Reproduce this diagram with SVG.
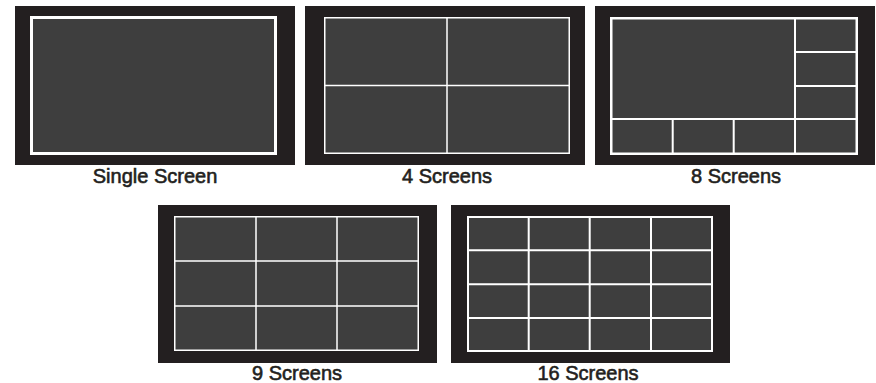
<svg xmlns="http://www.w3.org/2000/svg" width="876" height="383" viewBox="0 0 876 383">
<style>
.bez{fill:#231f20}
.scr{fill:#3e3e3e;stroke:#fff}
.div{stroke:#fff;fill:none}
.lbl{font-family:"Liberation Sans",Arial,sans-serif;font-size:20px;fill:#231f20;stroke:#231f20;stroke-width:0.6;text-anchor:middle}
</style>
<rect width="876" height="383" fill="#fff"/>
<g id="single">
<rect class="bez" x="15" y="6" width="280" height="159"/>
<rect class="scr" x="31.5" y="17.5" width="244" height="136" stroke-width="3"/>
<text class="lbl" x="155" y="182.5">Single Screen</text>
</g>
<g id="four">
<rect class="bez" x="305" y="6" width="280" height="159"/>
<rect class="scr" x="324.75" y="17.75" width="244.5" height="135.5" stroke-width="1.5"/>
<path class="div" stroke-width="1.5" d="M447 17.75V153.25M324.75 85.5H569.25"/>
<text class="lbl" x="447" y="182.5">4 Screens</text>
</g>
<g id="eight">
<rect class="bez" x="595" y="6" width="280" height="159"/>
<rect class="scr" x="611.25" y="18.25" width="245.5" height="135.5" stroke-width="2.5"/>
<path class="div" stroke-width="2" d="M795 18.25V153.75M611.25 119H856.75M795 52H856.75M795 86H856.75M672.7 119V153.75M733.7 119V153.75"/>
<text class="lbl" x="736" y="182.5">8 Screens</text>
</g>
<g id="nine">
<rect class="bez" x="158" y="205" width="279" height="158"/>
<rect class="scr" x="174.75" y="216.75" width="243.5" height="133.5" stroke-width="1.5"/>
<path class="div" stroke-width="1.5" d="M256 216.75V350.25M337 216.75V350.25M174.75 261H418.25M174.75 306H418.25"/>
<text class="lbl" x="297" y="380">9 Screens</text>
</g>
<g id="sixteen">
<rect class="bez" x="451" y="205" width="279" height="158"/>
<rect class="scr" x="468" y="217" width="244" height="134" stroke-width="2"/>
<path class="div" stroke-width="2" d="M528.7 217V351M589.7 217V351M651 217V351M468 250.3H712M468 284.3H712M468 318H712"/>
<text class="lbl" x="588" y="380">16 Screens</text>
</g>
</svg>
